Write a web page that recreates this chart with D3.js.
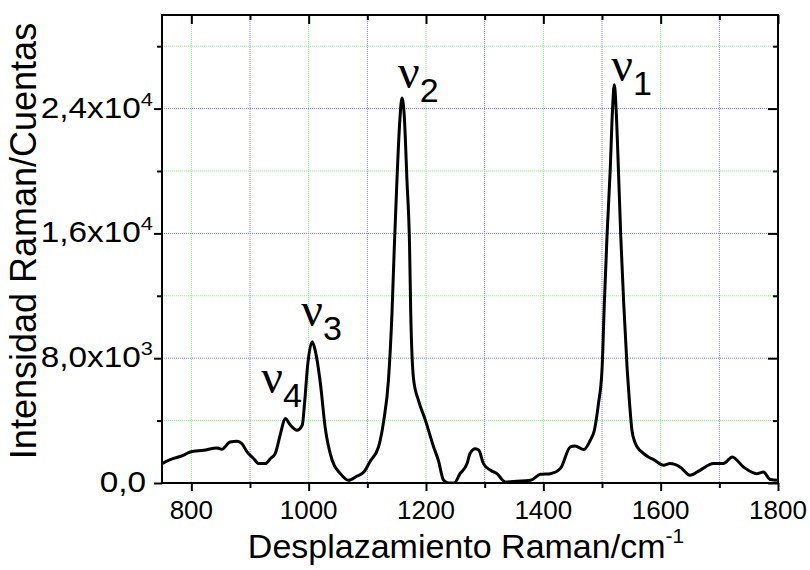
<!DOCTYPE html>
<html>
<head>
<meta charset="utf-8">
<script src="https://cdn.jsdelivr.net/npm/d3@7"></script>
<style>
  html, body { margin: 0; padding: 0; background: #fff; }
  svg { display: block; }
</style>
</head>
<body>
<svg id="chart" width="810" height="570"></svg>
<script>
// ---------------- DATA ----------------
const ramanShift = [
  750, 764, 787, 798, 821, 844, 852, 866, 878, 886, 895, 906, 915, 926, 935, 943,
  952, 960, 969, 980, 989, 993, 998, 1006, 1011, 1020, 1028, 1040, 1054, 1068, 1082, 1094,
  1105, 1119, 1122, 1128, 1136, 1142, 1146, 1150.5, 1155, 1159, 1163, 1167.5, 1172, 1174, 1179, 1187,
  1199, 1213, 1221, 1230, 1238, 1248, 1258, 1270, 1275, 1284, 1290, 1298, 1310, 1321, 1335, 1355,
  1378, 1395, 1412, 1429, 1446, 1454, 1469, 1480, 1487, 1494, 1500, 1504, 1508.5, 1514, 1518, 1521,
  1524, 1528, 1532, 1537, 1543, 1547, 1551, 1557, 1560, 1571, 1579, 1588, 1605, 1616, 1633, 1650,
  1667, 1690, 1707, 1722, 1741, 1764, 1775, 1787, 1800
];
const intensity = [
  1245, 1500, 1780, 1990, 2100, 2250, 2160, 2630, 2680, 2530, 1990, 1570, 1245, 1245, 1570, 1890,
  3170, 4130, 3700, 3380, 3700, 5100, 7450, 9050, 8520, 6380, 3600, 1460, 600, 170, 430, 700,
  1400, 2310, 2740, 4000, 6590, 10870, 15150, 19430, 23000, 24680, 23500, 19430, 15150, 10870, 6590, 5310,
  4025, 2310, 1460, 170, 0, 0, 600, 1245, 1890, 2200, 2100, 1245, 815, 600, 65, 110,
  170, 560, 600, 925, 2310, 2375, 2140, 2740, 3380, 5100, 7240, 11520, 15790, 20075, 24000, 25530,
  24000, 20075, 15790, 11520, 7240, 5100, 3380, 2530, 2310, 1890, 1670, 1500, 1136, 1245, 1030, 495,
  815, 1245, 1245, 1670, 1030, 600, 700, 220, 170
];

const xDomain = [750, 1800];
const yDomain = [0, 30000];
const xMajorTicks = [800, 1000, 1200, 1400, 1600, 1800];
const xMinorTicks = [900, 1100, 1300, 1500, 1700];
const yMajorTicks = [0, 8000, 16000, 24000];
const yMinorTicks = [4000, 12000, 20000, 28000];
const yTickBase = ["0,0", "8,0x10", "1,6x10", "2,4x10"];
const yTickExp = ["", "3", "4", "4"];

const peakNames = ["\u03BD", "\u03BD", "\u03BD", "\u03BD"];
const peakSubs = ["1", "2", "3", "4"];
const peakShift = [1521, 1159, 1006, 960];
const peakHeight = [25530, 24680, 9050, 4130];

const xTitle = "Desplazamiento Raman/cm";
const xTitleSup = "-1";
const yTitle = "Intensidad Raman/Cuentas";

// ---------------- LAYOUT ----------------
const L = 162, R = 778, T = 15, B = 483;
const svg = d3.select("#chart");
const x = d3.scaleLinear().domain(xDomain).range([L, R]);
const y = d3.scaleLinear().domain(yDomain).range([B, T]);

const FONT = "'Liberation Sans', Arial, sans-serif";
const SERIF = "'Liberation Serif', 'Times New Roman', serif";

// grid
const gridG = svg.append("g");
const green = "#7cf27c", blue = "#7a7aff";
xMajorTicks.filter(v => v > xDomain[0] && v < xDomain[1]).forEach(v => {
  gridG.append("line").attr("x1", x(v)).attr("x2", x(v)).attr("y1", T).attr("y2", B)
    .attr("stroke", green).attr("stroke-width", 1).attr("stroke-dasharray", "1,1");
});
xMinorTicks.forEach(v => {
  gridG.append("line").attr("x1", x(v)).attr("x2", x(v)).attr("y1", T).attr("y2", B)
    .attr("stroke", blue).attr("stroke-width", 1).attr("stroke-dasharray", "1,1");
});
yMajorTicks.filter(v => v > yDomain[0]).forEach(v => {
  gridG.append("line").attr("x1", L).attr("x2", R).attr("y1", y(v)).attr("y2", y(v))
    .attr("stroke", blue).attr("stroke-width", 1).attr("stroke-dasharray", "1,1");
});
yMinorTicks.forEach(v => {
  gridG.append("line").attr("x1", L).attr("x2", R).attr("y1", y(v)).attr("y2", y(v))
    .attr("stroke", green).attr("stroke-width", 1).attr("stroke-dasharray", "1,1");
});

// line
svg.append("clipPath").attr("id", "clip").append("rect")
  .attr("x", L).attr("y", T).attr("width", R - L).attr("height", B - T);
const line = d3.line().x((d, i) => x(ramanShift[i])).y(d => y(d)).curve(d3.curveMonotoneX);
svg.append("path").datum(intensity).attr("clip-path", "url(#clip)")
  .attr("d", line).attr("fill", "none").attr("stroke", "#000")
  .attr("stroke-width", 3).attr("stroke-linejoin", "round");

// axes
function styleAxis(g) {
  g.select(".domain").remove();
  g.selectAll(".tick line").attr("stroke", "#000").attr("stroke-width", 2);
  g.selectAll("text").remove();
}
svg.append("g").attr("transform", `translate(0,${B})`)
  .call(d3.axisBottom(x).tickValues(xMajorTicks).tickSize(8)).call(styleAxis);
svg.append("g").attr("transform", `translate(0,${B})`)
  .call(d3.axisBottom(x).tickValues(xMinorTicks).tickSize(5)).call(styleAxis);
svg.append("g").attr("transform", `translate(0,${T})`)
  .call(d3.axisBottom(x).tickValues(xMajorTicks).tickSize(9)).call(styleAxis);
svg.append("g").attr("transform", `translate(0,${T})`)
  .call(d3.axisBottom(x).tickValues(xMinorTicks).tickSize(5)).call(styleAxis);
svg.append("g").attr("transform", `translate(${L},0)`)
  .call(d3.axisLeft(y).tickValues(yMajorTicks).tickSize(8)).call(styleAxis);
svg.append("g").attr("transform", `translate(${L},0)`)
  .call(d3.axisLeft(y).tickValues(yMinorTicks).tickSize(5)).call(styleAxis);
svg.append("g").attr("transform", `translate(${R},0)`)
  .call(d3.axisLeft(y).tickValues(yMajorTicks).tickSize(10)).call(styleAxis);
svg.append("g").attr("transform", `translate(${R},0)`)
  .call(d3.axisLeft(y).tickValues(yMinorTicks).tickSize(5)).call(styleAxis);

// frame
svg.append("rect").attr("x", L).attr("y", T).attr("width", R - L).attr("height", B - T)
  .attr("fill", "none").attr("stroke", "#000").attr("stroke-width", 2);

// x tick labels
xMajorTicks.forEach(v => {
  svg.append("text").attr("x", x(v)).attr("y", 519).attr("text-anchor", "middle")
    .attr("font-family", FONT).attr("font-size", 26).text(v);
});

// y tick labels (slightly wide lettering, as in the original)
yMajorTicks.forEach((v, i) => {
  const endX = yTickExp[i] ? 153 : 146;
  const g = svg.append("g").attr("transform", `translate(${endX},${y(v) + 9}) scale(1.15,1)`);
  const t = g.append("text").attr("x", 0).attr("y", 0).attr("text-anchor", "end")
    .attr("font-family", FONT).attr("font-size", 29);
  t.append("tspan").text(yTickBase[i]);
  if (yTickExp[i]) t.append("tspan").attr("font-size", 19).attr("dy", -12).text(yTickExp[i]);
});

// axis titles
const xt = svg.append("text").attr("x", (L + R) / 2 - 4).attr("y", 558).attr("text-anchor", "middle")
  .attr("font-family", FONT).attr("font-size", 34);
xt.append("tspan").text(xTitle);
xt.append("tspan").attr("font-size", 21).attr("dy", -15).text(xTitleSup);

svg.append("text").attr("transform", `translate(36,${241}) rotate(-90)`)
  .attr("text-anchor", "middle").attr("font-family", FONT).attr("font-size", 36).text(yTitle);

// peak labels
const labelOffsets = [[-3, -4], [-4, -10], [-11, -16], [-24, -26]];
peakShift.forEach((v, i) => {
  const px = x(v) + labelOffsets[i][0], py = y(peakHeight[i]) + labelOffsets[i][1];
  const t = svg.append("text").attr("x", px).attr("y", py).attr("font-family", SERIF).attr("font-size", 48);
  t.append("tspan").text(peakNames[i]);
  t.append("tspan").attr("font-family", FONT).attr("font-size", 34).attr("dy", 14).text(peakSubs[i]);
});
</script>
</body>
</html>
